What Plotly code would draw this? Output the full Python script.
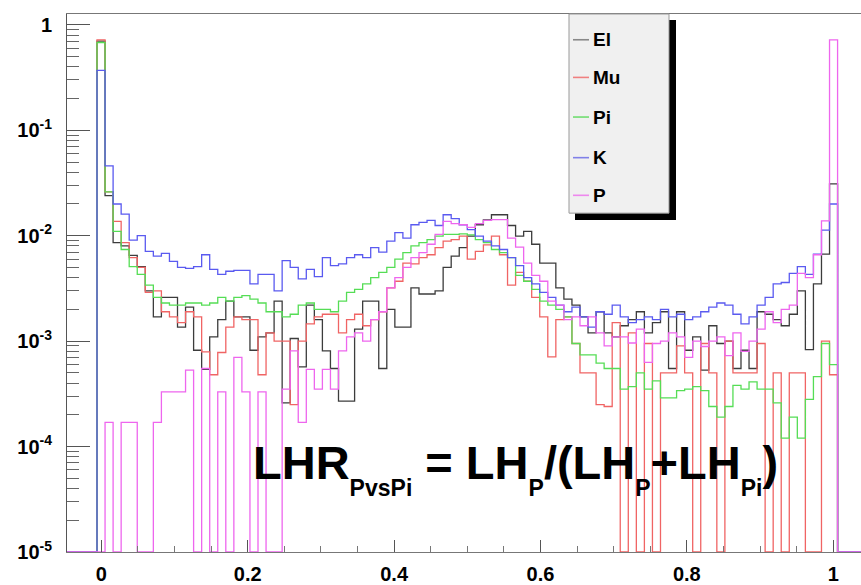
import numpy as np
import plotly.graph_objects as go

# ---------------- data (bin contents) ----------------
NBINS = 100
XMIN, XMAX = -0.05, 1.05          # histogram range, 100 bins of 0.011
PAD_LOW, PAD_HIGH = 4, 4          # empty bins before / after the filled ones

EL = [0.70, 0.024, 0.0086, 0.0080, 0.0065, 0.0051, 0.0030, 0.0017, 0.0026, 0.0026,
      0.00136, 0.0021, 0.00082, 0.00054, 0.0011, 0.0016, 0.0024, 0.0017, 0.0017, 0.00082,
      0.0011, 0.0012,
      0.0024, 0.00026, 0.00106, 0.00057, 0.0022, 0.0016, 0.00081, 0.00055, 0.00027, 0.00027,
      0.0013, 0.0024, 0.0024, 0.00055, 0.0020, 0.00136, 0.00136, 0.0032, 0.0028, 0.0028,
      0.0030, 0.0050, 0.0064,
      0.0077, 0.0099, 0.0127, 0.0141, 0.0158, 0.0158, 0.0125, 0.0099, 0.011, 0.0083,
      0.0055, 0.0055, 0.0032, 0.0025, 0.0022, 0.0017, 0.0012, 0.0019, 0.0012, 0.0011, 0.0014,
      0.0016, 0.0019, 0.0012, 0.0015, 0.0019, 0.00055, 0.0019, 0.00082, 0.0011, 0.00053,
      0.0014, 0.00095, 0.0010, 0.00055, 0.00082, 0.00055, 0.0019, 0.0018, 0.0016, 0.0014,
      0.0018, 0.0030, 0.00083, 0.0035, 0.0067, 0.031]

MU = [0.72, 0.026, 0.0137, 0.0086, 0.0062, 0.0050, 0.0029, 0.0030, 0.0019, 0.0017,
      0.0015, 0.0019, 0.0017, 0.00079, 0.00048, 0.00078, 0.00136, 0.0017, 0.0016, 0.0016,
      0.00048, 0.0012, 0.0010,
      0.0010, 0.00025, 0.0010, 0.00146, 0.0017, 0.0018, 0.0018, 0.0012, 0.0016, 0.0018,
      0.0014, 0.0016, 0.0019, 0.0032, 0.0037, 0.0055, 0.0054, 0.0062, 0.0066, 0.0077,
      0.0089, 0.0092,
      0.0099, 0.0060, 0.0071, 0.0082, 0.0099, 0.0066, 0.0034, 0.0045, 0.0037, 0.0026,
      0.0017, 0.00071, 0.0016, 0.0017, 0.00095, 0.0005, 0.0005, 0.00025, 0.00024, 0.0015, 0.0,
      0.0012, 0.0, 0.00095, 0.0, 0.0005, 0.0005, 0.0009, 0.0005, 0.0, 0.00095,
      0.0005, 0.0, 0.0010, 0.0005, 0.0005, 0.0005, 0.00095, 0.0, 0.0005, 0.0,
      0.0005, 0.0005, 0.0, 0.0, 0.0010, 0.00048]

PI = [0.68, 0.026, 0.011, 0.0074, 0.0051, 0.0043, 0.0034, 0.0026, 0.0023, 0.0022,
      0.0022, 0.0023, 0.0023, 0.0022, 0.0023, 0.0026, 0.0024, 0.0026, 0.0027, 0.0025,
      0.0023, 0.0019, 0.0019, 0.0017, 0.0018, 0.0022, 0.0023, 0.0020, 0.0020, 0.0019,
      0.0024, 0.0029, 0.0031, 0.0035, 0.0040, 0.0045, 0.0050, 0.0060, 0.0069, 0.0080,
      0.0086, 0.0092, 0.0099, 0.0103, 0.0103,
      0.0104, 0.0102, 0.0092, 0.0086, 0.0074, 0.0069, 0.0062, 0.0042, 0.0037, 0.0031,
      0.0024, 0.0022, 0.0020, 0.0017, 0.00095, 0.00074, 0.00074, 0.00062, 0.00055, 0.00055,
      0.00035,
      3.7e-4, 5.0e-4, 3.5e-4, 4.2e-4, 2.9e-4, 2.9e-4, 3.4e-4, 3.5e-4, 3.7e-4, 3.4e-4,
      2.4e-4, 1.9e-4, 2.4e-4, 3.8e-4, 3.5e-4, 4.1e-4, 3.5e-4, 3.5e-4, 2.6e-4, 1.2e-4,
      1.9e-4, 1.2e-4, 2.8e-4, 4.6e-4, 9.5e-4, 6.0e-4]

K = [0.37, 0.046, 0.020, 0.016, 0.0091, 0.010, 0.0071, 0.0064, 0.0068, 0.0057,
     0.0050, 0.0049, 0.0051, 0.0066, 0.0048, 0.0043, 0.0046, 0.0047, 0.0047, 0.0035,
     0.0043, 0.0043, 0.0030, 0.0058, 0.0050, 0.0039, 0.0048, 0.0041, 0.0062, 0.0052,
     0.0054, 0.0062, 0.0066, 0.0062, 0.0077, 0.0070, 0.0089, 0.0107, 0.0095, 0.0127,
     0.0134, 0.0140, 0.0125, 0.0158, 0.0145,
     0.0127, 0.0114, 0.0099, 0.0089, 0.0080, 0.0074, 0.0062, 0.0052, 0.0040, 0.0035,
     0.0029, 0.0026, 0.0022, 0.0019, 0.0021, 0.0017, 0.00136, 0.0019, 0.0018, 0.0022,
     0.0017,
     0.0015, 0.0016, 0.0017, 0.0016, 0.0020, 0.0017, 0.0018, 0.0016, 0.0017, 0.0019,
     0.0021, 0.0023, 0.0022, 0.0018, 0.00146, 0.0017, 0.0022, 0.0026, 0.0035, 0.0036,
     0.0044, 0.0051, 0.0043, 0.0067, 0.0113, 0.020]

P = [0.0, 1.7e-4, 0.0, 1.7e-4, 1.7e-4, 0.0, 0.0, 1.7e-4, 3.3e-4, 3.3e-4,
     3.3e-4, 5.3e-4, 0.0, 5.5e-4, 0.0, 3.3e-4, 0.0, 7e-4, 3.3e-4, 0.0,
     3.3e-4, 0.0, 0.0,
     3.5e-4, 8.1e-4, 1.7e-4, 5.4e-4, 3.5e-4, 5.4e-4, 3.5e-4, 8.1e-4, 0.0011, 0.0012,
     0.0010, 0.0016, 0.0019, 0.0032, 0.0040, 0.0050, 0.0062, 0.0069, 0.0083, 0.0103,
     0.0137, 0.013,
     0.0127, 0.012, 0.013, 0.014, 0.0142, 0.0142, 0.0095, 0.0078, 0.0055, 0.0042,
     0.0037, 0.0024, 0.0022, 0.0016, 0.0017, 0.0014, 0.0017, 0.0012, 0.0009, 0.0011,
     0.0011,
     9.6e-4, 0.0013, 6.3e-4, 9.5e-4, 0.0010, 0.0012, 0.0011, 7e-4, 0.0010, 8.9e-4,
     0.0010, 0.0011, 7.3e-4, 0.0012, 8e-4, 0.0010, 0.0013, 0.0019, 0.0015, 0.0020,
     0.0022, 0.0044, 0.0040, 0.0066, 0.0138, 0.72]

NAMES = ["El", "Mu", "Pi", "K", "P"]
COLORS = ["#3c3c3c", "#f06464", "#55dd55", "#5a5af0", "#ee66ee"]
LEGEND_COLORS = ["#888888", "#f08080", "#70dd70", "#8080e8", "#ee88ee"]

X_TICKS = [0, 0.2, 0.4, 0.6, 0.8, 1]
X_TICK_TEXT = ["0", "0.2", "0.4", "0.6", "0.8", "1"]
Y_TICKS = [1e-5, 1e-4, 1e-3, 1e-2, 1e-1, 1]
Y_TICK_TEXT = ["10<sup>-5</sup>", "10<sup>-4</sup>", "10<sup>-3</sup>",
               "10<sup>-2</sup>", "10<sup>-1</sup>", "1"]
FORMULA = ("LHR<sub><sub>PvsPi</sub></sub> = LH<sub><sub>P</sub></sub>/"
           "(LH<sub><sub>P</sub></sub>+LH<sub><sub>Pi</sub></sub>)")

# ---------------- figure ----------------
W, H = 861, 585
ML, MR, MT, MB = 67, 0, 14, 28
PW, PH = W - ML - MR, H - MT - MB
FLOOR = 1e-5          # empty bins are drawn on the frame bottom, as ROOT does
FONT = "Liberation Sans, Arial, sans-serif"

edges = np.linspace(XMIN, XMAX, NBINS + 1)

fig = go.Figure()
for name, vals, col in zip(NAMES, [EL, MU, PI, K, P], COLORS):
    full = [0.0] * PAD_LOW + list(vals) + [0.0] * PAD_HIGH
    y = [max(v, FLOOR) for v in full]
    y.append(y[-1])
    fig.add_trace(go.Scatter(x=edges, y=y, mode="lines", name=name,
                             line=dict(shape="hv", color=col, width=1.3),
                             showlegend=False, hoverinfo="skip"))


def px_x(px):
    return (px - ML) / PW


def px_y(py):
    return (H - MB - py) / PH


shapes = []
# legend shadow and box (ROOT TLegend style)
shapes.append(dict(type="rect", xref="paper", yref="paper", layer="above",
                   x0=px_x(575), x1=px_x(676), y0=px_y(222), y1=px_y(20),
                   fillcolor="black", line=dict(width=0)))
shapes.append(dict(type="rect", xref="paper", yref="paper", layer="above",
                   x0=px_x(569), x1=px_x(669), y0=px_y(215), y1=px_y(14),
                   fillcolor="#f0f0f0", line=dict(color="#999999", width=1)))
annotations = []
entry_y = [40, 78, 118, 159, 197]
for name, col, ey in zip(NAMES, LEGEND_COLORS, entry_y):
    shapes.append(dict(type="line", xref="paper", yref="paper", layer="above",
                       x0=px_x(573), x1=px_x(589), y0=px_y(ey), y1=px_y(ey),
                       line=dict(color=col, width=1.6)))
    annotations.append(dict(text=name, xref="paper", yref="paper",
                            x=px_x(591), y=px_y(ey), xanchor="left", yanchor="middle",
                            showarrow=False,
                            font=dict(family=FONT, size=19, color="black", weight="bold")))

annotations.append(dict(text=FORMULA, xref="paper", yref="paper",
                        x=px_x(251), y=px_y(473), xanchor="left", yanchor="middle",
                        showarrow=False,
                        font=dict(family=FONT, size=47, color="black", weight="bold")))

tickfont = dict(family=FONT, size=20, color="black", weight="bold")

fig.update_xaxes(range=[-0.047, 1.038], tickmode="array", tickvals=X_TICKS,
                 ticktext=X_TICK_TEXT, ticks="inside", ticklen=12, tickcolor="#555555",
                 tickwidth=1, showline=True, linecolor="#777777", linewidth=1,
                 mirror=True, showgrid=False, zeroline=False, tickfont=tickfont,
                 ticklabelstandoff=4,
                 minor=dict(ticks="inside", ticklen=6, dtick=0.05, tick0=0,
                            tickcolor="#777777", showgrid=False))
fig.update_yaxes(type="log", range=[-5, 0.103], tickmode="array", tickvals=Y_TICKS,
                 ticktext=Y_TICK_TEXT, ticks="inside", ticklen=23, tickcolor="#555555",
                 tickwidth=1, showline=True, linecolor="#555555", linewidth=1,
                 mirror=False, showgrid=False, zeroline=False, tickfont=tickfont,
                 ticklabelstandoff=10,
                 minor=dict(ticks="inside", ticklen=12, dtick="D1",
                            tickcolor="#666666", showgrid=False))

fig.update_layout(width=W, height=H, margin=dict(l=ML, r=MR, t=MT, b=MB),
                  paper_bgcolor="white", plot_bgcolor="white", showlegend=False,
                  font=dict(family=FONT), shapes=shapes, annotations=annotations)

fig.write_html("out.html")
